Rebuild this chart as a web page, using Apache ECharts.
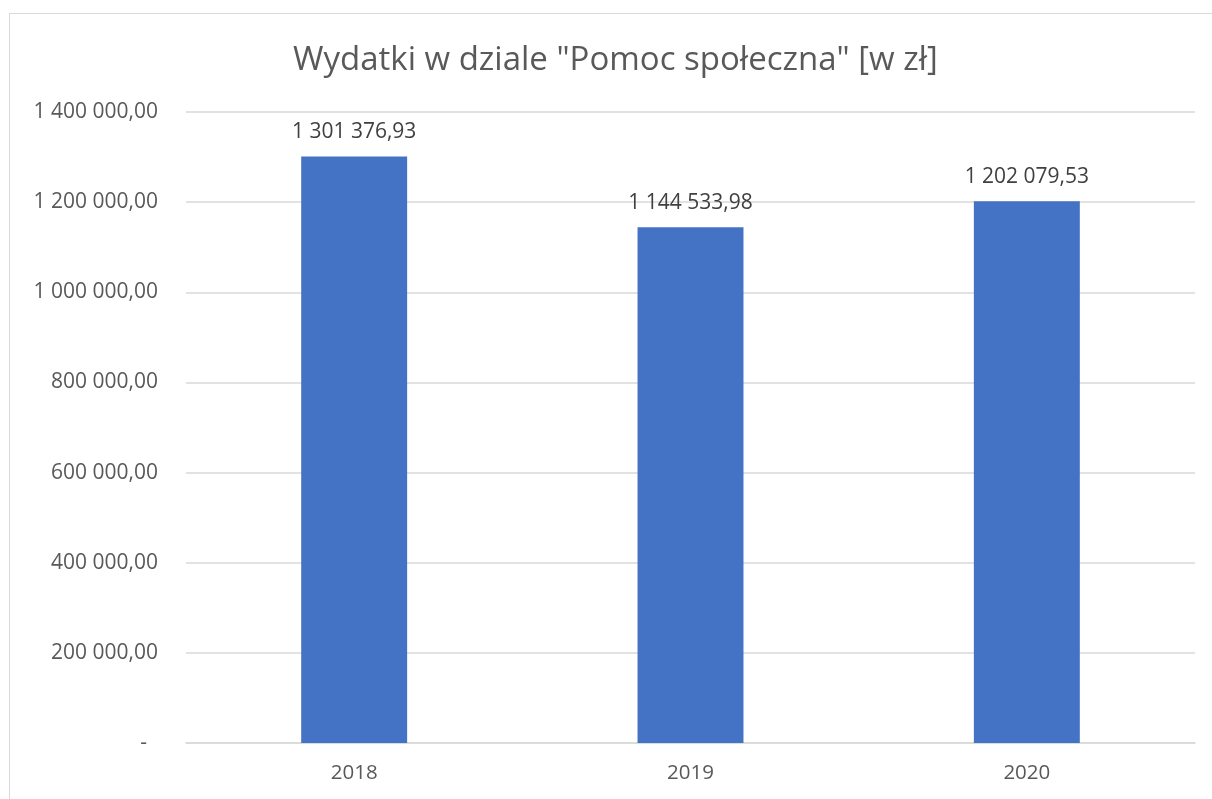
<!DOCTYPE html>
<html>
<head>
<meta charset="utf-8">
<script src="https://cdn.jsdelivr.net/npm/echarts@6/dist/echarts.min.js"></script>
<style>
  html, body { margin: 0; padding: 0; background: #fff; }
  #frame {
    position: absolute;
    left: 9px;
    top: 13px;
    width: 1220px;
    height: 800px;
    border: 1px solid #d9d9d9;
  }
  #chart {
    position: absolute;
    left: 0;
    top: 0;
    width: 1212px;
    height: 799px;
  }
</style>
</head>
<body>
<div id="frame"></div>
<div id="chart"></div>
<script>
  var years = ["2018", "2019", "2020"];
  var wydatki = [1301376.93, 1144533.98, 1202079.53];
  var yTicks = [0, 200000, 400000, 600000, 800000, 1000000, 1200000, 1400000];

  // 1 301 376,93 style
  function plFormat(v) {
    var parts = v.toFixed(2).split(".");
    var int = parts[0].replace(/\B(?=(\d{3})+(?!\d))/g, " ");
    return int + "," + parts[1];
  }

  var chart = echarts.init(document.getElementById("chart"));
  chart.setOption({
    animation: false,
    textStyle: { fontFamily: "Open Sans, Noto Sans, sans-serif" },
    title: {
      text: 'Wydatki w dziale "Pomoc społeczna" [w zł]',
      left: 288,
      top: 39,
      textStyle: { fontSize: 33, fontWeight: "normal", color: "#595959" }
    },
    grid: { left: 186, right: 17, top: 112, bottom: 56 },
    xAxis: {
      type: "category",
      data: years,
      axisLine: { lineStyle: { color: "#d9d9d9", width: 1.5 } },
      axisTick: { show: false },
      axisLabel: { color: "#595959", fontSize: 20.5, margin: 20 }
    },
    yAxis: {
      type: "value",
      min: yTicks[0],
      max: yTicks[yTicks.length - 1],
      interval: 200000,
      axisLine: { show: false },
      axisTick: { show: false },
      splitLine: { lineStyle: { color: "#d9d9d9", width: 1.5 } },
      axisLabel: {
        color: "#595959",
        fontSize: 21,
        margin: 28,
        formatter: function (v) { return v === 0 ? "-  " : plFormat(v); }
      }
    },
    series: [{
      type: "bar",
      data: wydatki,
      barWidth: "31.5%",
      itemStyle: { color: "#4472C4" },
      label: {
        show: true,
        position: "top",
        distance: 14,
        color: "#404040",
        fontSize: 21,
        formatter: function (p) { return plFormat(p.value); }
      }
    }]
  });
</script>
</body>
</html>
